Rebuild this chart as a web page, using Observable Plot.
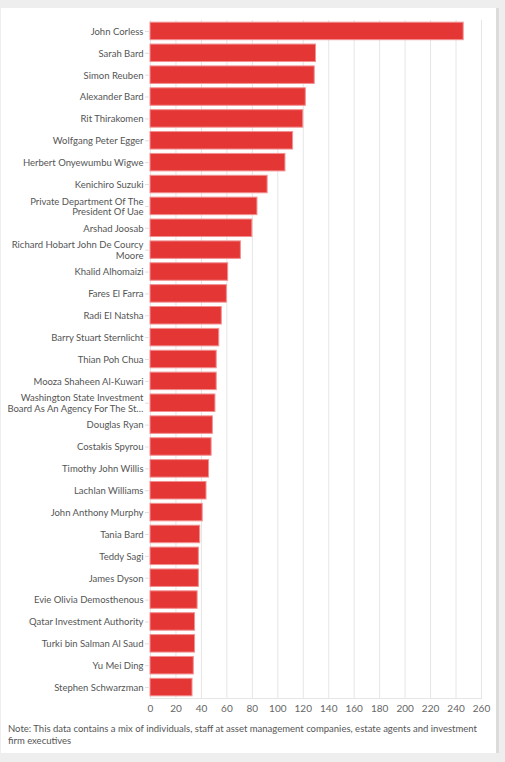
<!DOCTYPE html>
<html>
<head>
<meta charset="utf-8">
<script src="https://cdn.jsdelivr.net/npm/d3@7"></script>
<script src="https://cdn.jsdelivr.net/npm/@observablehq/plot@0.6"></script>
<style>
  html, body { margin: 0; padding: 0; background: #eeeeee; }
  body { width: 505px; height: 762px; position: relative; overflow: hidden; font-family: Lato, sans-serif; }
  #card { position: absolute; left: 1px; top: 8px; width: 495px; height: 745px; background: #fff; border-right: 3px solid #dcdcdc; box-sizing: content-box; }
  #chart svg { display: block; }
  #note { position: absolute; left: 7px; top: 715px; width: 485px; font-size: 9.5px; line-height: 12px; color: #555; }
</style>
</head>
<body>
<div id="card">
  <div id="chart"></div>
  <div id="note">Note: This data contains a mix of individuals, staff at asset management companies, estate agents and investment<br>firm executives</div>
</div>
<script>
const names = [
  "John Corless", "Sarah Bard", "Simon Reuben", "Alexander Bard", "Rit Thirakomen",
  "Wolfgang Peter Egger", "Herbert Onyewumbu Wigwe", "Kenichiro Suzuki",
  "Private Department Of The President Of Uae", "Arshad Joosab",
  "Richard Hobart John De Courcy Moore", "Khalid Alhomaizi", "Fares El Farra",
  "Radi El Natsha", "Barry Stuart Sternlicht", "Thian Poh Chua", "Mooza Shaheen Al-Kuwari",
  "Washington State Investment Board As An Agency For The State Of Washington",
  "Douglas Ryan", "Costakis Spyrou", "Timothy John Willis", "Lachlan Williams",
  "John Anthony Murphy", "Tania Bard", "Teddy Sagi", "James Dyson",
  "Evie Olivia Demosthenous", "Qatar Investment Authority", "Turki bin Salman Al Saud",
  "Yu Mei Ding", "Stephen Schwarzman"
];
const values = [246, 130, 129, 122, 120, 112, 106, 92, 84, 80, 71, 61, 60, 56, 54, 52, 52, 51, 49, 48, 46, 44, 41, 39, 38, 38, 37, 35, 35, 34, 33];
const displayLabels = {
  "Private Department Of The President Of Uae": "Private Department Of The\nPresident Of Uae",
  "Richard Hobart John De Courcy Moore": "Richard Hobart John De Courcy\nMoore",
  "Washington State Investment Board As An Agency For The State Of Washington": "Washington State Investment\nBoard As An Agency For The St\u2026"
};
const xTicks = d3.range(0, 261, 20);

const data = names.map((name, i) => ({name, value: values[i]}));

const chart = Plot.plot({
  width: 495,
  height: 712,
  marginLeft: 149,
  marginRight: 15,
  marginTop: 12,
  marginBottom: 22,
  style: {fontFamily: "Lato, sans-serif", fontSize: "9.5px", color: "#555", background: "#fff"},
  x: {domain: [0, 260], ticks: xTicks, label: null},
  y: {domain: names, paddingInner: 0.2, paddingOuter: 0.1, round: false, label: null},
  marks: [
    Plot.gridX(xTicks, {stroke: "#e6e6e6", strokeOpacity: 1}),
    Plot.frame({anchor: "bottom", stroke: "#e6e6e6"}),
    Plot.barX(data, {y: "name", x: "value", fill: "#e53636", stroke: "#f29090", strokeWidth: 1}),
    Plot.axisX({ticks: xTicks, tickSize: 0, tickPadding: 6, fill: "#666", fontSize: 10, label: null}),
    Plot.axisY({tickSize: 5, tickPadding: 2, stroke: "#ddd", fill: "#555", label: null, lineHeight: 1.1,
      tickFormat: d => displayLabels[d] ?? d})
  ]
});
document.getElementById("chart").append(chart);
</script>
</body>
</html>
